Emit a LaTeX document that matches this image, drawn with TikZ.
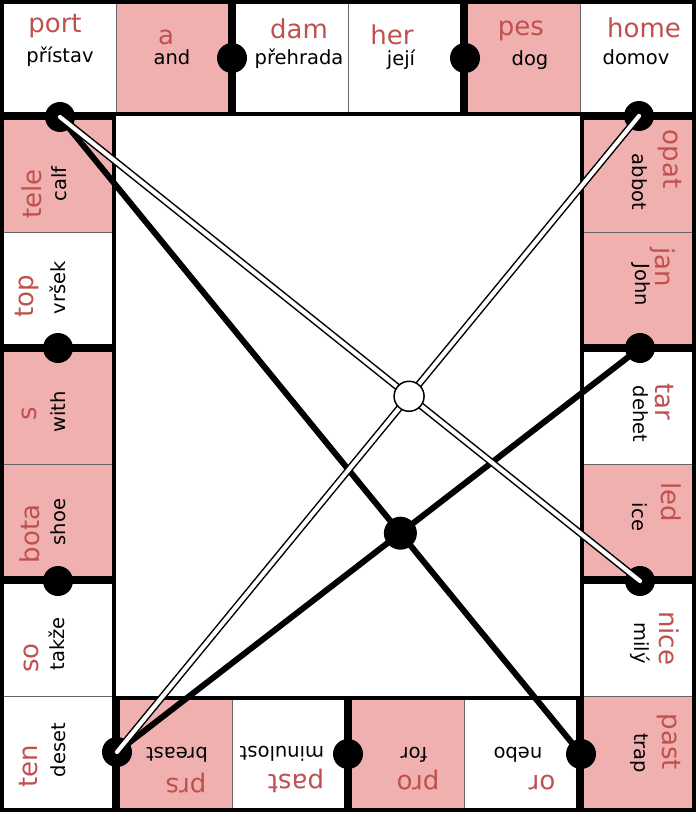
\documentclass[tikz,border=0pt]{standalone}
\usepackage{fontspec}
\setmainfont{DejaVu Sans}
\usetikzlibrary{calc}
\definecolor{pinkfill}{HTML}{F0B0B0}
\definecolor{wordred}{HTML}{C0504D}
\begin{document}
\begin{tikzpicture}[x=1pt, y=-1pt,
  domino/.style={draw, line width=4pt},
  halfline/.style={draw=black!60, line width=1pt},
  cz/.style={text=wordred, inner sep=0pt, font=\fontsize{26}{26}\selectfont},
  en/.style={inner sep=0pt, font=\fontsize{19.5}{19.5}\selectfont},
  joint/.style={circle, fill, inner sep=0pt, minimum size=30pt},
  link/.style={line width=6pt},
  wire/.style={line width=1.5pt, double=white, double distance=4.2pt, line cap=round}]
\useasboundingbox (0,0) rectangle (699,813);
% pink halves
\fill[pinkfill] (116,0) rectangle (232,116);
\fill[pinkfill] (464,0) rectangle (580,116);
\fill[pinkfill] (0,116) rectangle (116,232);
\fill[pinkfill] (0,348) rectangle (116,580);
\fill[pinkfill] (580,116) rectangle (696,348);
\fill[pinkfill] (580,464) rectangle (696,580);
\fill[pinkfill] (580,696) rectangle (696,812);
\fill[pinkfill] (116,696) rectangle (232,812);
\fill[pinkfill] (348,696) rectangle (464,812);
% middle lines of the dominoes
\draw[halfline] (116,0) -- (116,116) (348,0) -- (348,116) (580,0) -- (580,116)
  (0,232) -- (116,232) (0,464) -- (116,464) (0,696) -- (116,696)
  (580,232) -- (696,232) (580,464) -- (696,464) (580,696) -- (696,696)
  (232,696) -- (232,812) (464,696) -- (464,812);
% dominoes
\foreach \xa/\ya/\xb/\yb in {0/0/232/116, 232/0/464/116, 464/0/696/116,
  0/116/116/348, 0/348/116/580, 0/580/116/812,
  580/116/696/348, 580/348/696/580, 580/580/696/812,
  116/696/348/812, 348/696/580/812}
  \draw[domino] (\xa+2,\ya+2) rectangle (\xb-2,\yb-2);
% top row
\node[cz] (port) at (55,26) {port};
\node[en] (pristav) at (60,57) {přístav};
\node[cz] (a) at (166,37) {a};
\node[en] (and) at (172,57) {and};
\node[cz] (dam) at (299,29) {dam};
\node[en] (prehrada) at (299,59) {přehrada};
\node[cz] (her) at (392,35) {her};
\node[en] (jeji) at (401,60) {její};
\node[cz] (pes) at (521,31) {pes};
\node[en] (dog) at (530,60) {dog};
\node[cz] (home) at (644,28) {home};
\node[en] (domov) at (636,57) {domov};
% left column
\node[cz, rotate=90] (tele) at (32,194) {tele};
\node[en, rotate=90] (calf) at (59,184) {calf};
\node[cz, rotate=90] (top) at (27,296) {top};
\node[en, rotate=90] (vrsek) at (58,288) {vršek};
\node[cz, rotate=90] (s) at (29,414) {s};
\node[en, rotate=90] (with) at (58,412) {with};
\node[cz, rotate=90] (bota) at (30,534) {bota};
\node[en, rotate=90] (shoe) at (58,522) {shoe};
\node[cz, rotate=90] (so) at (31,658) {so};
\node[en, rotate=90] (takze) at (57,644) {takže};
\node[cz, rotate=90] (ten) at (29,766) {ten};
\node[en, rotate=90] (deset) at (58,750) {deset};
% bottom row
\node[cz, rotate=180] (prs) at (186,783) {prs};
\node[en, rotate=180] (breast) at (177,755) {breast};
\node[cz, rotate=180] (past) at (296,781) {past};
\node[en, rotate=180] (minulost) at (282,754) {minulost};
\node[cz, rotate=180] (pro) at (418,780) {pro};
\node[en, rotate=180] (for) at (414,755) {for};
\node[cz, rotate=180] (or) at (542,783) {or};
\node[en, rotate=180] (nebo) at (518,755) {nebo};
% right column
\node[cz, rotate=-90] (opat) at (670,159) {opat};
\node[en, rotate=-90] (abbot) at (640,182) {abbot};
\node[cz, rotate=-90] (jan) at (663,267) {jan};
\node[en, rotate=-90] (john) at (641,285) {John};
\node[cz, rotate=-90] (tar) at (664,402) {tar};
\node[en, rotate=-90] (dehet) at (641,414) {dehet};
\node[cz, rotate=-90] (led) at (671,502) {led};
\node[en, rotate=-90] (ice) at (640,517) {ice};
\node[cz, rotate=-90] (nice) at (669,638) {nice};
\node[en, rotate=-90] (mily) at (640,643) {milý};
\node[cz, rotate=-90] (past2) at (669,742) {past};
\node[en, rotate=-90] (trap) at (639,753) {trap};
% joints
\node[joint] (ad) at (232,58) {};
\node[joint] (hp) at (465,58) {};
\node[joint] (pt) at (60,117) {};
\node[joint] (ho) at (639,116) {};
\node[joint] (ts) at (58,348) {};
\node[joint] (bs) at (58,581) {};
\node[joint] (jt) at (640,348) {};
\node[joint] (ln) at (640,581) {};
\node[joint] (tp) at (117,752) {};
\node[joint] (pp) at (348,754) {};
\node[joint] (op) at (581,754) {};
% lines
\draw[link] (pt.center) -- (op.center);
\draw[link] (tp.center) -- (jt.center);
\draw[wire] (pt.center) -- (ln.center);
\draw[wire] (ho.center) -- (tp.center);
\node[circle, draw, fill=white, line width=1.5pt, minimum size=30pt, inner sep=0pt] (cross)
  at (intersection of pt.center--ln.center and ho.center--tp.center) {};
\node[joint, minimum size=33pt] (knot)
  at (intersection of pt.center--op.center and tp.center--jt.center) {};
\end{tikzpicture}
\end{document}
